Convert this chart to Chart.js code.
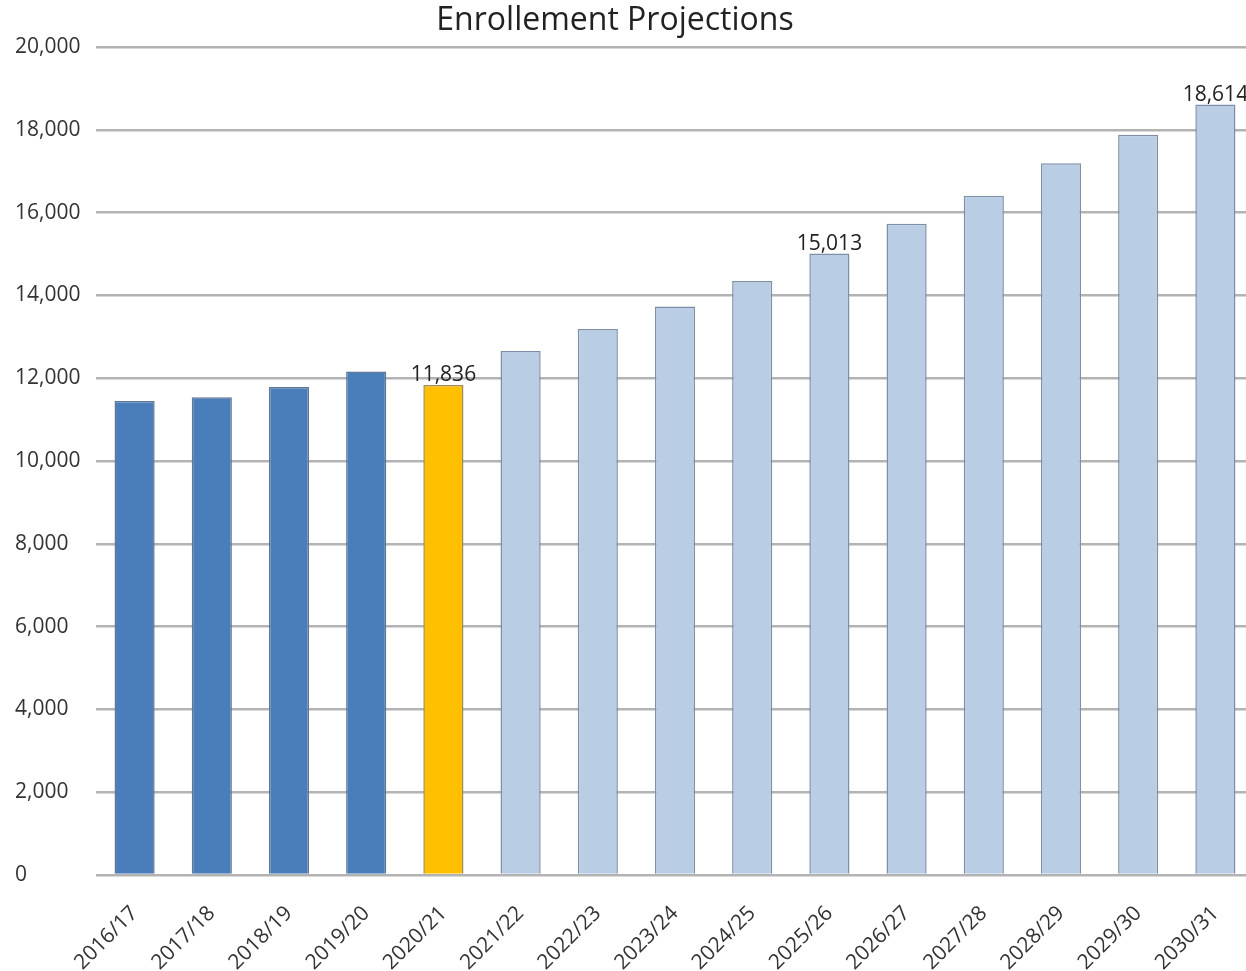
<!DOCTYPE html>
<html>
<head>
<meta charset="utf-8">
<script src="https://cdn.jsdelivr.net/npm/chart.js@4.4.1/dist/chart.umd.min.js"></script>
<style>
  html, body { margin: 0; padding: 0; background: #fff; overflow: hidden; }
  #wrap { width: 1246px; height: 971px; overflow: hidden; }
</style>
</head>
<body>
<div id="wrap"><canvas id="chart" width="1254" height="971"></canvas></div>
<script>
const years = [
  "2016/17", "2017/18", "2018/19", "2019/20", "2020/21",
  "2021/22", "2022/23", "2023/24", "2024/25", "2025/26",
  "2026/27", "2027/28", "2028/29", "2029/30", "2030/31",
];
const enrollment = [
  11450, 11540, 11790, 12160, 11836,
  12660, 13190, 13730, 14350, 15013,
  15730, 16410, 17190, 17880, 18614,
];
// actual / current year / projection
const phase = [
  "actual", "actual", "actual", "actual", "current",
  "proj", "proj", "proj", "proj", "proj",
  "proj", "proj", "proj", "proj", "proj",
];
const labelled = ["2020/21", "2025/26", "2030/31"];
const chartTitle = "Enrollement Projections";

const FILL = { actual: "#4a7ebb", current: "#ffc000", proj: "#b9cde5" };
const EDGE = { actual: "#5f7694", current: "#9c8a58", proj: "#7f8fa6" };

const FONT = "'Open Sans', 'Liberation Sans', sans-serif";

// title sits a bit left of the canvas centre in the original
const titleText = {
  id: "titleText",
  afterDraw(chart) {
    const ctx = chart.ctx;
    ctx.save();
    ctx.font = "32px " + FONT;
    ctx.fillStyle = "#222";
    ctx.textAlign = "center";
    ctx.textBaseline = "middle";
    ctx.fillText(chartTitle, 615, 21);
    ctx.restore();
  },
};

const valueLabels = {
  id: "valueLabels",
  afterDatasetsDraw(chart) {
    const ctx = chart.ctx;
    const meta = chart.getDatasetMeta(0);
    ctx.save();
    ctx.font = "21px " + FONT;
    ctx.fillStyle = "#222";
    ctx.textAlign = "center";
    ctx.textBaseline = "bottom";
    years.forEach((y, i) => {
      if (!labelled.includes(y)) return;
      const bar = meta.data[i];
      ctx.fillText(enrollment[i].toLocaleString("en-US"), bar.x, bar.y + 1);
    });
    ctx.restore();
  },
};

new Chart(document.getElementById("chart").getContext("2d"), {
  type: "bar",
  data: {
    labels: years,
    datasets: [
      {
        data: enrollment,
        backgroundColor: phase.map((p) => FILL[p]),
        borderColor: phase.map((p) => EDGE[p]),
        borderWidth: 1.5,
        borderSkipped: "bottom",
        categoryPercentage: 1,
        barPercentage: 0.52,
      },
    ],
  },
  options: {
    responsive: false,
    animation: false,
    layout: { padding: { top: 47, left: 15, right: 0, bottom: 0 } },
    plugins: {
      legend: { display: false },
      tooltip: { enabled: false },
      title: { display: false },
    },
    scales: {
      x: {
        grid: { display: false },
        border: { display: false },
        ticks: {
          color: "#333",
          font: { family: FONT, size: 21 },
          maxRotation: 45,
          minRotation: 45,
          padding: 18,
        },
        afterFit(scale) { scale.height = 96; },
      },
      y: {
        min: 0,
        max: 20000,
        ticks: {
          stepSize: 2000,
          color: "#333",
          font: { family: FONT, size: 21 },
          crossAlign: "far",
          callback: (v) => v.toLocaleString("en-US"),
        },
        grid: { color: "#b3b3b3", lineWidth: 2.5, drawTicks: false },
        border: { display: false },
        afterFit(scale) { scale.width = 81; },
      },
    },
  },
  plugins: [valueLabels, titleText],
});
</script>
</body>
</html>
